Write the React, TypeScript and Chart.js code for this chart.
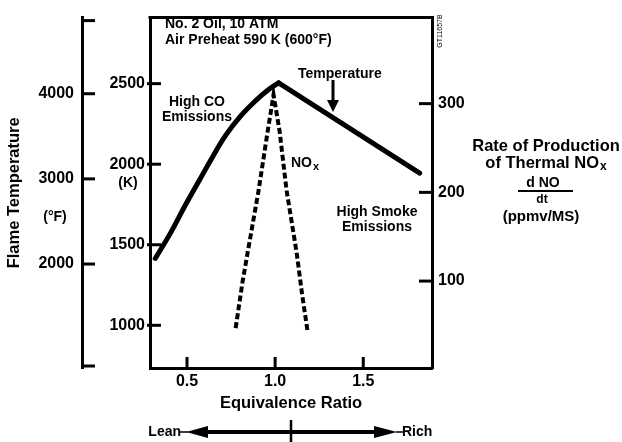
import React, { useEffect, useRef } from "react";
import { Chart, registerables } from "chart.js";

Chart.register(...registerables);

// ---- data ----
const tempPhi = [0.32, 0.41, 0.49, 0.57, 0.645, 0.72, 0.805, 0.89, 0.965, 1.02, 1.82];
const tempK = [1415, 1580, 1745, 1900, 2045, 2180, 2300, 2395, 2465, 2505, 1945];
const noxPhi = [0.776, 0.815, 0.844, 0.906, 0.957, 0.991, 1.026, 1.065, 1.122, 1.151, 1.185];
const noxRate = [47, 99, 132, 202, 268, 310, 268, 202, 132, 88, 42];

const xTicks = [0.5, 1.0, 1.5];
const kTicks = [1000, 1500, 2000, 2500];
const fTicks = [2000, 3000, 4000];
const nTicks = [100, 200, 300];

const FONT = '"Liberation Sans", Arial, Helvetica, sans-serif';
const bold = (size: number) => ({ family: FONT, size, weight: "bold" as const });

// index of the temperature peak (stoichiometric corner)
const peakIdx = tempK.indexOf(Math.max(...tempK));

const decor = {
  id: "decor",
  afterDraw(chart: any) {
    const { ctx, chartArea: a, scales } = chart;
    const { x, yK, yF, yN } = scales;
    const line = (x1: number, y1: number, x2: number, y2: number, w: number) => {
      ctx.lineWidth = w;
      ctx.beginPath();
      ctx.moveTo(x1, y1);
      ctx.lineTo(x2, y2);
      ctx.stroke();
    };
    const text = (t: string, tx: number, ty: number, size: number, align: CanvasTextAlign = "center", weight = "bold") => {
      ctx.font = `${weight} ${size}px ${FONT}`;
      ctx.textAlign = align;
      ctx.textBaseline = "middle";
      ctx.fillText(t, tx, ty);
    };
    ctx.save();
    ctx.strokeStyle = "#000";
    ctx.fillStyle = "#000";
    ctx.lineCap = "butt";

    // top border of the plot box
    line(a.left - 1.5, a.top, a.right + 1.5, a.top, 3);

    // inward ticks
    yK.ticks.forEach((t: any) => {
      const py = yK.getPixelForValue(t.value);
      line(a.left - 3, py, a.left + 11, py, 3);
    });
    x.ticks.forEach((t: any) => {
      const px = x.getPixelForValue(t.value);
      line(px, a.bottom, px, a.bottom - 11, 3);
    });
    yN.ticks.forEach((t: any) => {
      const py = yN.getPixelForValue(t.value);
      line(a.right + 1, py, a.right - 13, py, 3);
    });
    // Fahrenheit axis ticks (pointing right) and end caps
    const fx = yF.right;
    yF.ticks.forEach((t: any) => {
      const py = yF.getPixelForValue(t.value);
      line(fx, py, fx + 13, py, 3);
    });
    line(fx, yF.top + 3, fx + 13, yF.top + 3, 3);
    line(fx, yF.bottom - 2, fx + 13, yF.bottom - 2, 3);

    // annotations in plot
    text("No. 2 Oil, 10 ATM", 165, 24, 14, "left");
    text("Air Preheat 590 K (600°F)", 165, 40, 14, "left");
    text("Temperature", 298, 74, 14, "left");
    // arrow to temperature curve
    line(333, 80, 333, 103, 3);
    ctx.beginPath();
    ctx.moveTo(327, 100);
    ctx.lineTo(339, 100);
    ctx.lineTo(333, 112);
    ctx.closePath();
    ctx.fill();

    text("High CO", 197, 102, 14);
    text("Emissions", 197, 117, 14);
    text("High Smoke", 377, 212, 14);
    text("Emissions", 377, 227, 14);
    // NOx label
    text("NO", 291, 163, 14, "left");
    ctx.font = `bold 14px ${FONT}`;
    const wNO = ctx.measureText("NO").width;
    text("x", 291 + wNO + 1, 167, 11, "left");

    text("(K)", 128, 183, 14);
    text("(°F)", 55, 217, 14);

    // figure id
    ctx.save();
    ctx.translate(440, 31);
    ctx.rotate(-Math.PI / 2);
    text("GT11657B", 0, 0, 7, "center", "normal");
    ctx.restore();

    // right-hand title
    const cx = 546;
    text("Rate of Production", cx, 146, 16.5);
    ctx.font = `bold 16.5px ${FONT}`;
    const w1 = ctx.measureText("of Thermal NO").width;
    ctx.font = `bold 12px ${FONT}`;
    const w2 = ctx.measureText("x").width;
    const sx = cx - (w1 + w2 + 1) / 2;
    text("of Thermal NO", sx, 163, 16.5, "left");
    text("x", sx + w1 + 1, 167, 12, "left");
    text("d NO", 543, 183, 14);
    line(518, 191, 573, 191, 2);
    text("dt", 542, 200, 12);
    text("(ppmv/MS)", 541, 217, 15);

    // Lean / Rich arrow
    const mid = (a.left + a.right) / 2;
    const ay = 432;
    text("Lean", 181, ay, 14, "right");
    text("Rich", 402, ay, 14, "left");
    line(180, ay, 188, ay, 1.5);
    line(396, ay, 403, ay, 1.5);
    line(204, ay, 378, ay, 4);
    ctx.beginPath();
    ctx.moveTo(186, ay);
    ctx.lineTo(208, ay - 6);
    ctx.lineTo(208, ay + 6);
    ctx.closePath();
    ctx.fill();
    ctx.beginPath();
    ctx.moveTo(397, ay);
    ctx.lineTo(374, ay - 6);
    ctx.lineTo(374, ay + 6);
    ctx.closePath();
    ctx.fill();
    line(mid, 420, mid, 442, 2.5);

    ctx.restore();
  },
};

const plainTick = (v: any) => String(v);

export default function App() {
  const ref = useRef<HTMLCanvasElement | null>(null);
  useEffect(() => {
    if (!ref.current) return;
    const leanPts = tempPhi.slice(0, peakIdx + 1).map((p, i) => ({ x: p, y: tempK[i] }));
    const richPts = tempPhi.slice(peakIdx).map((p, i) => ({ x: p, y: tempK[peakIdx + i] }));
    const chart = new Chart(ref.current, {
      type: "line",
      data: {
        datasets: [
          {
            label: "Temperature (lean side)",
            data: leanPts,
            yAxisID: "yK",
            borderColor: "#000",
            borderWidth: 5,
            borderCapStyle: "round",
            pointRadius: 0,
            tension: 0.4,
            fill: false,
          },
          {
            label: "Temperature (rich side)",
            data: richPts,
            yAxisID: "yK",
            borderColor: "#000",
            borderWidth: 5,
            borderCapStyle: "round",
            pointRadius: 0,
            tension: 0,
            fill: false,
          },
          {
            label: "NOx",
            data: noxPhi.map((p, i) => ({ x: p, y: noxRate[i] })),
            yAxisID: "yN",
            borderColor: "#000",
            borderWidth: 4,
            borderDash: [6, 3],
            pointRadius: 0,
            tension: 0,
            fill: false,
          },
        ],
      },
      options: {
        responsive: false,
        animation: false,
        devicePixelRatio: 1,
        layout: { padding: { top: 10, left: 0, right: 0, bottom: 0 } },
        plugins: { legend: { display: false }, tooltip: { enabled: false } },
        scales: {
          x: {
            type: "linear",
            position: "bottom",
            min: 0.29,
            max: 1.89,
            grid: { display: false, drawTicks: false },
            border: { display: true, color: "#000", width: 3 },
            ticks: {
              color: "#000",
              font: bold(16),
              padding: 4,
              autoSkip: false,
              maxRotation: 0,
              callback: (v: any) => Number(v).toFixed(1),
            },
            afterBuildTicks: (s: any) => {
              s.ticks = xTicks.map((v) => ({ value: v }));
            },
            afterFit: (s: any) => {
              s.height = 74;
            },
            title: {
              display: true,
              text: "Equivalence Ratio",
              color: "#000",
              font: bold(16.5),
              padding: { top: 0, bottom: 29 },
            },
          },
          yK: {
            type: "linear",
            position: "left",
            weight: 0,
            min: 735,
            max: 2910,
            grid: { display: false, drawTicks: false },
            border: { display: true, color: "#000", width: 3 },
            ticks: { color: "#000", font: bold(16), padding: 5, autoSkip: false, callback: plainTick },
            afterBuildTicks: (s: any) => {
              s.ticks = kTicks.map((v) => ({ value: v }));
            },
            afterFit: (s: any) => {
              s.width = 68;
            },
          },
          yF: {
            type: "linear",
            position: "left",
            weight: 1,
            min: 779,
            max: 4894,
            grid: { display: false, drawTicks: false },
            border: { display: true, color: "#000", width: 3 },
            ticks: { color: "#000", font: bold(16), padding: 8, autoSkip: false, callback: plainTick },
            afterBuildTicks: (s: any) => {
              s.ticks = fTicks.map((v) => ({ value: v }));
            },
            afterFit: (s: any) => {
              s.width = 82;
            },
            title: {
              display: true,
              text: "Flame Temperature",
              color: "#000",
              font: bold(16.5),
              padding: { top: 5, bottom: 0 },
            },
          },
          yN: {
            type: "linear",
            position: "right",
            min: 2,
            max: 397,
            grid: { display: false, drawTicks: false },
            border: { display: true, color: "#000", width: 3 },
            ticks: { color: "#000", font: bold(16), padding: 6, autoSkip: false, callback: plainTick },
            afterBuildTicks: (s: any) => {
              s.ticks = nTicks.map((v) => ({ value: v }));
            },
            afterFit: (s: any) => {
              s.width = 190;
            },
          },
        },
      },
      plugins: [decor],
    } as any);
    return () => chart.destroy();
  }, []);
  return (
    <div style={{ position: "fixed", left: 0, top: 0, width: 622, height: 442, background: "#fff" }}>
      <canvas ref={ref} width={622} height={442} style={{ display: "block" }} />
    </div>
  );
}
